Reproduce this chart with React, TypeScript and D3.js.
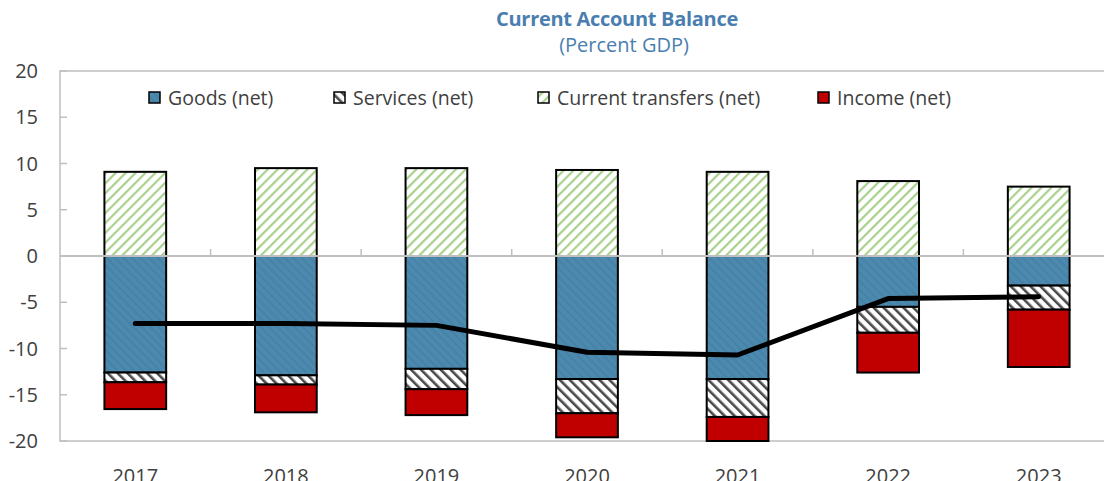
import React from 'react';
import * as d3 from 'd3';

const years = ['2017', '2018', '2019', '2020', '2021', '2022', '2023'];
const goods = [-12.6, -12.9, -12.2, -13.3, -13.3, -5.5, -3.2];
const services = [-1.05, -1.0, -2.2, -3.7, -4.1, -2.8, -2.6];
const income = [-2.9, -3.0, -2.8, -2.6, -2.6, -4.3, -6.2];
const transfers = [9.1, 9.5, 9.5, 9.3, 9.1, 8.1, 7.5];
const balance = [-7.3, -7.3, -7.5, -10.4, -10.7, -4.6, -4.4];
const yTicks = [20, 15, 10, 5, 0, -5, -10, -15, -20];

const legendItems = [
  { label: 'Goods (net)', fill: 'url(#pGoods)', x: 149 },
  { label: 'Services (net)', fill: 'url(#pServices)', x: 334 },
  { label: 'Current transfers (net)', fill: 'url(#pTransfers)', x: 538 },
  { label: 'Income (net)', fill: '#c00000', x: 818 },
];

const FONT = "'Open Sans', 'Noto Sans', sans-serif";

export default function App() {
  const W = 1104, H = 481;
  const left = 60, right = 1114, top = 71, bottom = 441;
  const y = d3.scaleLinear().domain([-20, 20]).range([bottom, top]);
  const x = d3.scaleBand<string>().domain(years).range([left, right]).padding(0);
  const bw = x.bandwidth() * 0.41;
  const cx = (yr: string) => (x(yr) as number) + x.bandwidth() / 2;

  const segs: { yr: string; y0: number; y1: number; fill: string }[] = [];
  years.forEach((yr, i) => {
    let base = 0;
    [[goods[i], 'url(#pGoods)'], [services[i], 'url(#pServices)'], [income[i], '#c00000']].forEach(([v, f]) => {
      const nb = base + (v as number);
      segs.push({ yr, y0: base, y1: nb, fill: f as string });
      base = nb;
    });
    segs.push({ yr, y0: 0, y1: transfers[i], fill: 'url(#pTransfers)' });
  });

  const line = d3.line<number>().x((_, i) => cx(years[i])).y(d => y(d));
  const grey = '#bfbfbf';

  return (
    <svg width={W} height={H} style={{ position: 'absolute', left: 0, top: 0, background: '#fff' }}>
      <defs>
        <pattern id="pGoods" width="6" height="6" patternUnits="userSpaceOnUse" patternTransform="rotate(-45)">
          <rect width="6" height="6" fill="#4c89ae" />
          <rect width="2" height="6" fill="#4782a6" />
        </pattern>
        <pattern id="pServices" width="7" height="7" patternUnits="userSpaceOnUse" patternTransform="rotate(-45)">
          <rect width="7" height="7" fill="#ffffff" />
          <rect width="2.6" height="7" fill="#4a4a4a" />
        </pattern>
        <pattern id="pTransfers" width="7" height="7" patternUnits="userSpaceOnUse" patternTransform="rotate(45)">
          <rect width="7" height="7" fill="#ffffff" />
          <rect width="2.2" height="7" fill="#a9d18e" />
        </pattern>
      </defs>

      <text x={617} y={26} textAnchor="middle" fontFamily={FONT} fontWeight="bold" fontSize={20} fill="#4a7eb0" letterSpacing="-0.3">Current Account Balance</text>
      <text x={624} y={52} textAnchor="middle" fontFamily={FONT} fontSize={20} fill="#4a7eb0">(Percent GDP)</text>

      {/* plot area border */}
      <rect x={left} y={top} width={right - left} height={bottom - top} fill="none" stroke={grey} strokeWidth={1.5} />

      {/* y ticks */}
      {yTicks.map(t => (
        <g key={t}>
          <line x1={left} x2={left + 7} y1={y(t)} y2={y(t)} stroke={grey} strokeWidth={1.5} />
          <text x={38} y={y(t)} dy="0.35em" textAnchor="end" fontFamily={FONT} fontSize={20} fill="#404040">{t}</text>
        </g>
      ))}

      {/* bars */}
      {segs.map((s, i) => (
        <rect key={i} x={cx(s.yr) - bw / 2} y={Math.min(y(s.y0), y(s.y1))} width={bw} height={Math.abs(y(s.y1) - y(s.y0))}
          fill={s.fill} stroke="#000" strokeWidth={2} />
      ))}

      {/* zero axis */}
      <line x1={left} x2={right} y1={y(0)} y2={y(0)} stroke={grey} strokeWidth={2} />
      {years.slice(1).map(yr => (
        <line key={yr} x1={x(yr) as number} x2={x(yr) as number} y1={y(0)} y2={y(0) - 7} stroke={grey} strokeWidth={1.5} />
      ))}

      {/* balance line */}
      <path d={line(balance) as string} fill="none" stroke="#000" strokeWidth={5} strokeLinecap="round" strokeLinejoin="round" />

      {/* x labels */}
      {years.map(yr => (
        <text key={yr} x={cx(yr)} y={483} textAnchor="middle" fontFamily={FONT} fontSize={20} fill="#404040">{yr}</text>
      ))}

      {/* legend */}
      {legendItems.map(it => (
        <g key={it.label}>
          <rect x={it.x} y={92} width={11} height={11} fill={it.fill} stroke="#000" strokeWidth={1.5} />
          <text x={it.x + 19} y={98} dy="0.35em" fontFamily={FONT} fontSize={19.5} fill="#404040">{it.label}</text>
        </g>
      ))}
    </svg>
  );
}
